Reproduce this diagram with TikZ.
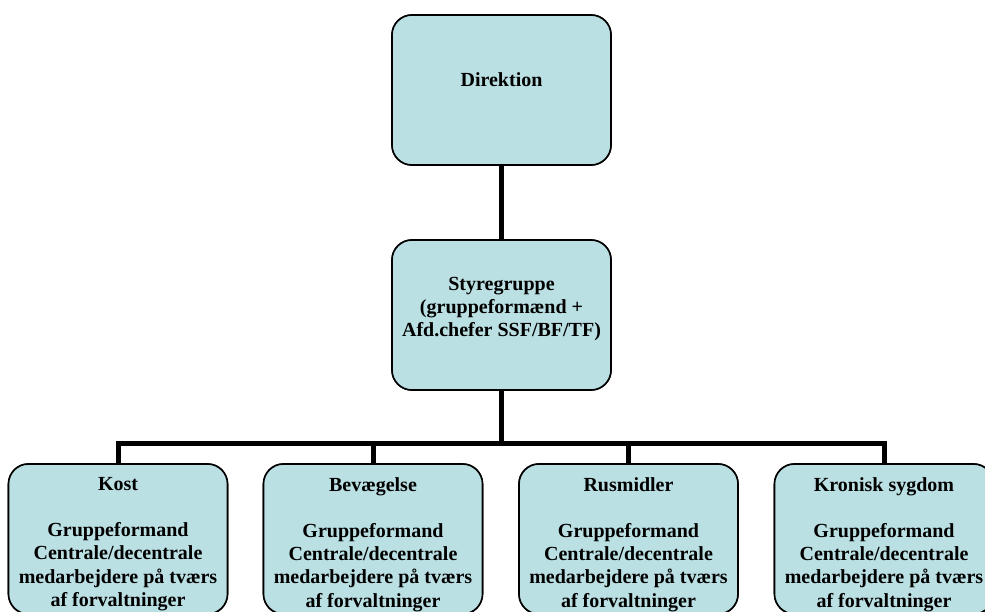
\documentclass[tikz,border=0pt]{standalone}
\usepackage{fontspec}
\setmainfont{Liberation Serif}
\definecolor{boxfill}{RGB}{187,224,227}
\tikzset{
  orgbox/.style={draw=black, line width=1.6pt, fill=boxfill, rounded corners=20pt,
    minimum width=219pt, minimum height=150pt, inner sep=0pt},
  boxtext/.style={align=center, inner sep=0pt, font=\fontsize{20}{23.3}\selectfont\bfseries},
  conn/.style={draw=black, line width=5pt}
}
\begin{document}
\begin{tikzpicture}[x=1pt,y=-1pt]
\useasboundingbox (0,0) rectangle (985,612);
\clip (0,0) rectangle (985,612);
% boxes
\node[orgbox] (dir) at (501.5,90) {};
\node[orgbox] (sty) at (501.5,315) {};
\node[orgbox] (kost) at (118,539) {};
\node[orgbox] (bev) at (373,539) {};
\node[orgbox] (rus) at (628.5,539) {};
\node[orgbox] (kron) at (884,539) {};
\coordinate (bus) at (501.5,443);
% connectors
\draw[conn] (dir.south) -- (sty.north);
\draw[conn] (sty.south) -- (bus);
\draw[conn] (kost.north) |- (bus);
\draw[conn] (kron.north) |- (bus);
\draw[conn] (bev.north) -- (bev.north |- bus);
\draw[conn] (rus.north) -- (rus.north |- bus);
% redraw borders over the line ends
\node[orgbox] at (dir) {};
\node[orgbox] at (sty) {};
\node[orgbox] at (kost) {};
\node[orgbox] at (bev) {};
\node[orgbox] at (rus) {};
\node[orgbox] at (kron) {};
% texts
\node[boxtext] (tdir) at (501.5,80) {Direktion};
\node[boxtext] (tsty) at (501.5,309) {Styregruppe\\(gruppeformænd +\\Afd.chefer SSF/BF/TF)};
\node[boxtext, anchor=north] (tkost) at (118,477) {Kost\\[23pt]Gruppeformand\\Centrale/decentrale\\medarbejdere på tværs\\af forvaltninger};
\node[boxtext, anchor=north] (tbev) at (373,477) {Bevægelse\\[23pt]Gruppeformand\\Centrale/decentrale\\medarbejdere på tværs\\af forvaltninger};
\node[boxtext, anchor=north] (trus) at (628.5,477) {Rusmidler\\[23pt]Gruppeformand\\Centrale/decentrale\\medarbejdere på tværs\\af forvaltninger};
\node[boxtext, anchor=north] (tkron) at (884,477) {Kronisk sygdom\\[23pt]Gruppeformand\\Centrale/decentrale\\medarbejdere på tværs\\af forvaltninger};
\end{tikzpicture}
\end{document}
